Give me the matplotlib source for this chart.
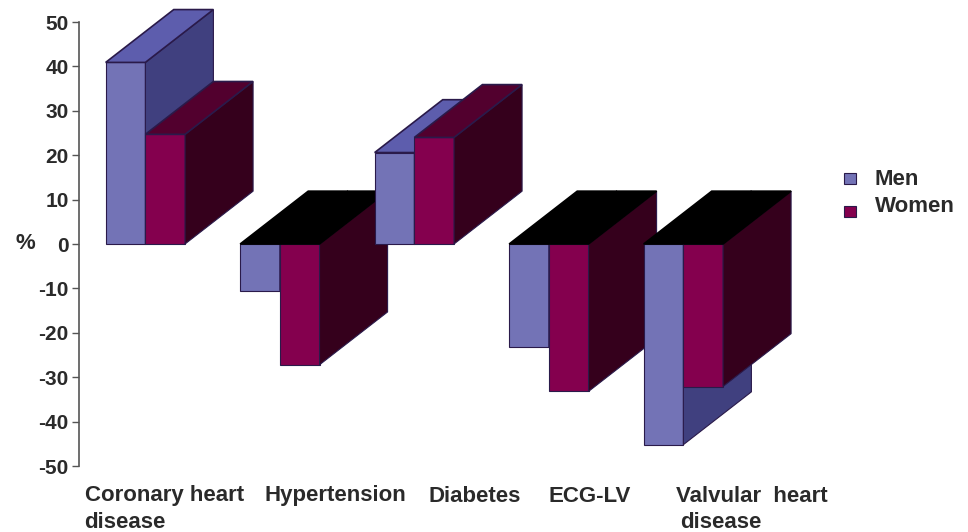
import matplotlib
matplotlib.use("Agg")
import matplotlib.pyplot as plt
from matplotlib.patches import Rectangle

categories = ["Coronary heart\ndisease", "Hypertension", "Diabetes", "ECG-LV", "Valvular  heart\ndisease"]
men = [40.9, -10.5, 20.6, -23.3, -45.2]
women = [24.7, -27.2, 24.0, -33.2, -32.1]
y_ticks = [50, 40, 30, 20, 10, 0, -10, -20, -30, -40, -50]

FIG_W, FIG_H = 968, 532
BAR_W = 0.295
DEPTH_X = 0.506
DEPTH_Y = 11.9
TEXT = "#2a2a2a"
EDGE = "#2a1a4a"

# front, side, top colours
MEN_COL = ("#7373b6", "#40407f", "#5d5dad")
WOMEN_COL = ("#84004e", "#35001c", "#52002e")

plt.rcParams["font.family"] = ["Liberation Sans", "DejaVu Sans"]
plt.rcParams["font.weight"] = "bold"
plt.rcParams["axes.unicode_minus"] = False

fig = plt.figure(figsize=(FIG_W / 100, FIG_H / 100), dpi=100)
ax = fig.add_axes([78.5 / FIG_W, (FIG_H - 466) / FIG_H, 672.5 / FIG_W, 444 / FIG_H])


def bar3d(ax, left, value, cols):
    right = left + BAR_W
    front, side, top = cols
    # the cap sits at the zero line for negative bars and is drawn black
    cap_y = max(value, 0)
    cap_col = top if value > 0 else "black"
    ax.bar(left, value, BAR_W, align="edge", color=front, edgecolor=EDGE, linewidth=0.8, clip_on=False)
    ax.fill([right, right + DEPTH_X, right + DEPTH_X, right],
            [0, DEPTH_Y, value + DEPTH_Y, value],
            facecolor=side, edgecolor=EDGE, linewidth=0.8, clip_on=False)
    ax.fill([left, right, right + DEPTH_X, left + DEPTH_X],
            [cap_y, cap_y, cap_y + DEPTH_Y, cap_y + DEPTH_Y],
            facecolor=cap_col, edgecolor=EDGE if value > 0 else "black", linewidth=1.2, clip_on=False)


for i, (m, w) in enumerate(zip(men, women)):
    bar3d(ax, i - BAR_W, m, MEN_COL)
    bar3d(ax, i, w, WOMEN_COL)

ax.set_xlim(-0.497, 4.503)
ax.set_ylim(-50, 50)
ax.set_yticks(y_ticks)
ax.set_xticks([])
ax.tick_params(axis="y", length=5, width=1.0, color="#555555", labelsize=15, labelcolor=TEXT, pad=2)
for s in ["top", "right", "bottom"]:
    ax.spines[s].set_visible(False)
ax.spines["left"].set_color("#555555")
ax.spines["left"].set_linewidth(1.2)
ax.patch.set_visible(False)


def px_text(x, y, s, size=16, ha="left", va="center"):
    fig.text(x / FIG_W, 1 - y / FIG_H, s, fontsize=size, color=TEXT, ha=ha, va=va, fontweight="bold")


px_text(25, 243, "%", size=16, ha="center")

# category labels are placed one by one, their spacing is uneven
label_x = [85, 265, 428, 548, 676]
second_x = [84, 0, 0, 0, 680]
for x, x2, lab in zip(label_x, second_x, categories):
    first, *rest = lab.split("\n")
    px_text(x, 496, first)
    for line in rest:
        px_text(x2, 523, line)

# legend keys sit a bit apart from their text
fig.add_artist(Rectangle((843.5 / FIG_W, 1 - 184 / FIG_H), 12.5 / FIG_W, 11 / FIG_H,
                         transform=fig.transFigure, facecolor=MEN_COL[0], edgecolor=EDGE, linewidth=0.8))
fig.add_artist(Rectangle((843.5 / FIG_W, 1 - 217 / FIG_H), 12.5 / FIG_W, 11.5 / FIG_H,
                         transform=fig.transFigure, facecolor=WOMEN_COL[0], edgecolor=EDGE, linewidth=0.8))
px_text(875, 179, "Men")
px_text(875, 207, "Women")

fig.savefig("out.png", dpi=100, facecolor="white")
